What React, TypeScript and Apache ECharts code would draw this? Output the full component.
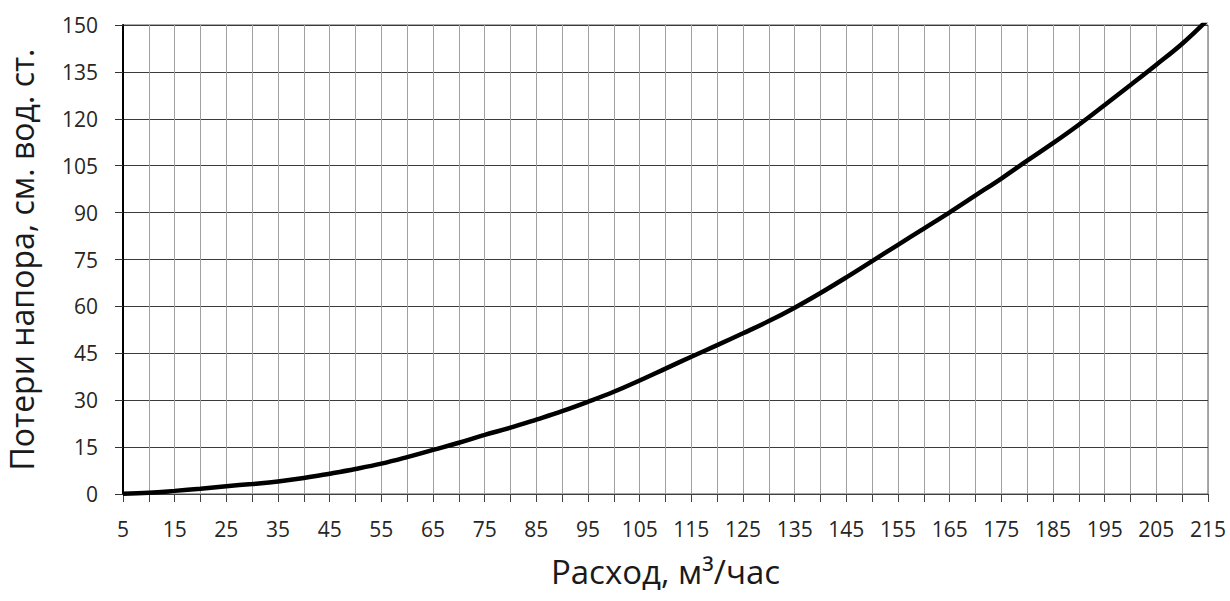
import React, { useEffect, useRef } from "react";
import * as echarts from "echarts";

const flowCategories: string[] = [
  "5", "10", "15", "20", "25", "30", "35", "40", "45", "50",
  "55", "60", "65", "70", "75", "80", "85", "90", "95", "100",
  "105", "110", "115", "120", "125", "130", "135", "140", "145", "150",
  "155", "160", "165", "170", "175", "180", "185", "190", "195", "200",
  "205", "210", "215",
];

const headLoss: number[] = [
  0.1, 0.4, 1.0, 1.7, 2.5, 3.2, 4.0, 5.1, 6.5, 8.0,
  9.7, 11.8, 14.1, 16.4, 18.9, 21.2, 23.8, 26.5, 29.5, 32.7,
  36.3, 40.1, 43.9, 47.6, 51.4, 55.3, 59.6, 64.3, 69.3, 74.5,
  79.7, 84.9, 90.1, 95.5, 100.9, 106.6, 112.2, 118.1, 124.4, 130.8,
  137.3, 144.0, 151.8,
];

const yTitle = "Потери напора, см. вод. ст.";
const xTitle = "Расход, м³/час";

const FONT = "'Open Sans', 'Noto Sans', sans-serif";

export default function App() {
  const ref = useRef<HTMLDivElement>(null);

  useEffect(() => {
    if (!ref.current) return;
    const chart = echarts.init(ref.current, null, { renderer: "svg" });
    chart.setOption({
      animation: false,
      backgroundColor: "#ffffff",
      textStyle: { fontFamily: FONT },
      grid: {
        left: 123,
        right: 22,
        top: 25,
        bottom: 107,
        containLabel: false,
        outerBoundsMode: "none",
        show: true,
        borderColor: "#555555",
        borderWidth: 1,
      },
      xAxis: {
        type: "category",
        data: flowCategories,
        boundaryGap: false,
        name: xTitle,
        nameLocation: "middle",
        nameGap: 61,
        nameTextStyle: { fontSize: 33, color: "#1a1a1a", fontFamily: FONT },
        axisLine: { show: true, lineStyle: { color: "#404040", width: 1 } },
        axisTick: {
          show: true,
          interval: 0,
          length: 8,
          lineStyle: { color: "#404040", width: 1 },
        },
        axisLabel: {
          interval: 1,
          margin: 24,
          fontSize: 21,
          color: "#262626",
          fontFamily: FONT,
        },
        splitLine: {
          show: true,
          interval: 0,
          lineStyle: { color: "#a0a0a0", width: 1 },
        },
      },
      yAxis: {
        type: "value",
        min: 0,
        max: 150,
        interval: 15,
        name: yTitle,
        nameLocation: "middle",
        nameRotate: 90,
        nameGap: 86,
        nameTextStyle: { fontSize: 32, color: "#1a1a1a", fontFamily: FONT },
        axisLine: { show: true, lineStyle: { color: "#000000", width: 2 } },
        axisTick: {
          show: true,
          length: 8,
          lineStyle: { color: "#333333", width: 1 },
        },
        axisLabel: {
          margin: 25,
          fontSize: 21,
          color: "#262626",
          fontFamily: FONT,
        },
        splitLine: {
          show: true,
          lineStyle: { color: "#3a3a3a", width: 1 },
        },
      },
      series: [
        {
          type: "line",
          data: headLoss,
          smooth: 0.4,
          showSymbol: false,
          clip: true,
          lineStyle: { color: "#000000", width: 4.5 },
          z: 5,
        },
      ],
    });
    return () => chart.dispose();
  }, []);

  return (
    <div
      ref={ref}
      style={{ position: "fixed", left: 0, top: 0, width: 1230, height: 601 }}
    />
  );
}
